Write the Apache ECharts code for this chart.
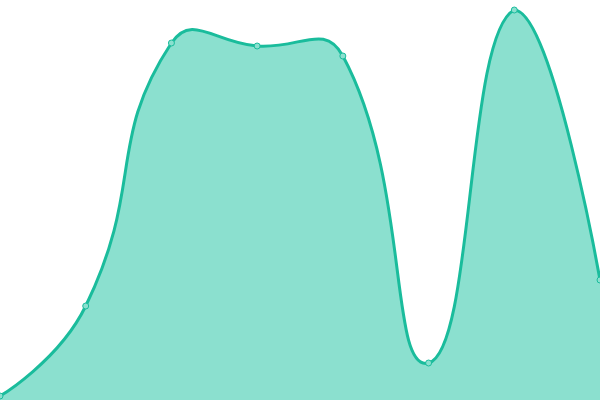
<!DOCTYPE html>
<html>
<head>
<meta charset="utf-8">
<script src="https://cdn.jsdelivr.net/npm/echarts@6/dist/echarts.min.js"></script>
<style>
  html, body { margin: 0; padding: 0; background: #fff; }
  #main { width: 600px; height: 400px; }
</style>
</head>
<body>
<div id="main"></div>
<script>
// data
var categories = ['A', 'B', 'C', 'D', 'E', 'F', 'G', 'H'];
var values = [4, 94, 357, 354, 344, 37, 390, 120];

var lineColor = '#1abc9c';
var areaColor = '#8be0cf';
var smooth = 0.5;

// old style smoothing (control points may overshoot, only kept inside the bounding box)
function buildCurve(api) {
    var pts = values.map(function (v, i) { return api.coord([i, v]); });
    var minX = Infinity, minY = Infinity, maxX = -Infinity, maxY = -Infinity;
    pts.forEach(function (p) {
        minX = Math.min(minX, p[0]); maxX = Math.max(maxX, p[0]);
        minY = Math.min(minY, p[1]); maxY = Math.max(maxY, p[1]);
    });
    function clamp(p) {
        return [Math.min(Math.max(p[0], minX), maxX), Math.min(Math.max(p[1], minY), maxY)];
    }
    var d = 'M' + pts[0][0] + ' ' + pts[0][1];
    var cp0 = pts[0];
    for (var i = 1; i < pts.length; i++) {
        var p = pts[i], prev = pts[i - 1], next = pts[i + 1];
        var cp1, nextCp0;
        if (!next) {
            cp1 = p; nextCp0 = p;
        } else {
            var vx = next[0] - prev[0], vy = next[1] - prev[1];
            var lenPrev = Math.sqrt(Math.pow(p[0] - prev[0], 2) + Math.pow(p[1] - prev[1], 2));
            var lenNext = Math.sqrt(Math.pow(next[0] - p[0], 2) + Math.pow(next[1] - p[1], 2));
            var r = lenNext / (lenNext + lenPrev);
            cp1 = [p[0] - vx * smooth * (1 - r), p[1] - vy * smooth * (1 - r)];
            nextCp0 = [p[0] + vx * smooth * r, p[1] + vy * smooth * r];
        }
        var a = clamp(cp0), b = clamp(cp1);
        d += ' C' + a[0] + ' ' + a[1] + ' ' + b[0] + ' ' + b[1] + ' ' + p[0] + ' ' + p[1];
        cp0 = nextCp0;
    }
    return { d: d, pts: pts };
}

var chart = echarts.init(document.getElementById('main'));
var option = {
    animation: false,
    grid: { left: 0, right: 0, top: 0, bottom: 0 },
    xAxis: {
        type: 'category',
        boundaryGap: false,
        data: categories,
        show: false
    },
    yAxis: {
        type: 'value',
        min: 0,
        max: 400,
        show: false
    },
    series: [{
        type: 'custom',
        data: values,
        clip: true,
        renderItem: function (params, api) {
            var idx = params.dataIndex;
            var pt = api.coord([idx, values[idx]]);
            var children = [];
            if (idx === 0) {
                var c = buildCurve(api);
                var base = api.coord([0, 0])[1];
                var last = c.pts[c.pts.length - 1];
                children.push({
                    type: 'path',
                    shape: { pathData: c.d + ' L' + last[0] + ' ' + base + ' L' + c.pts[0][0] + ' ' + base + ' Z' },
                    style: { fill: areaColor, stroke: null }
                });
                children.push({
                    type: 'path',
                    shape: { pathData: c.d },
                    style: { fill: null, stroke: lineColor, lineWidth: 3 }
                });
            }
            children.push({
                type: 'circle',
                z2: 10,
                shape: { cx: pt[0], cy: pt[1], r: 3 },
                style: { fill: areaColor, stroke: lineColor, lineWidth: 1 }
            });
            return { type: 'group', children: children };
        }
    }]
};
chart.setOption(option);
</script>
</body>
</html>
